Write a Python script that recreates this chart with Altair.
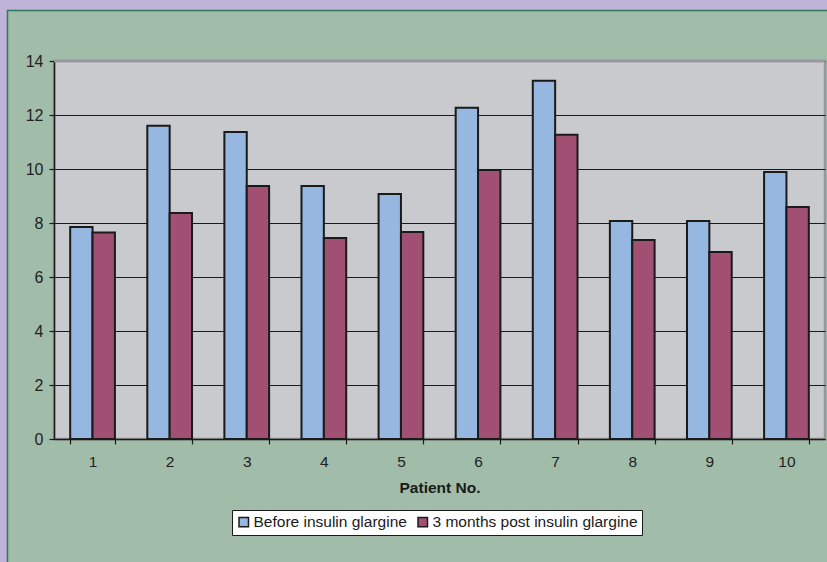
import altair as alt
import pandas as pd

patients = [str(i) for i in range(1, 11)]
before = [7.85, 11.6, 11.37, 9.37, 9.07, 12.27, 13.27, 8.07, 8.07, 9.89]
after = [7.65, 8.37, 9.37, 7.44, 7.67, 9.96, 11.27, 7.37, 6.93, 8.59]
series = ["Before insulin glargine", "3 months post insulin glargine"]
colors = ["#95b7e0", "#a15074"]

rows = []
for p, b, a in zip(patients, before, after):
    rows.append({"patient": p, "series": series[0], "value": b})
    rows.append({"patient": p, "series": series[1], "value": a})
df = pd.DataFrame(rows)

FONT = "Liberation Sans"
W, H = 771, 378

one = pd.DataFrame({"a": [0]})

bars = alt.Chart(df).mark_bar(stroke="#1a1a1a", strokeWidth=2).encode(
    x=alt.X("patient:N", sort=patients, title="Patient No.",
            scale=alt.Scale(paddingInner=0.42, paddingOuter=0.21),
            axis=alt.Axis(tickBand="extent", labelAngle=0, tickSize=5,
                          labelPadding=10, titlePadding=11, grid=False,
                          labelFontSize=15.5, titleFontSize=15.5)),
    xOffset=alt.XOffset("series:N", sort=series,
                        scale=alt.Scale(paddingInner=0, paddingOuter=0)),
    y=alt.Y("value:Q", title=None,
            scale=alt.Scale(domain=[0, 14], nice=False),
            axis=alt.Axis(values=[0, 2, 4, 6, 8, 10, 12, 14], tickSize=5,
                          labelPadding=6, grid=True, gridColor="#1a1a1a",
                          gridWidth=1, labelFontSize=16)),
    color=alt.Color("series:N", sort=series,
                    scale=alt.Scale(domain=series, range=colors),
                    legend=alt.Legend(title=None, orient="none", direction="horizontal",
                                      legendX=178, legendY=449,
                                      fillColor="white", strokeColor="#1a1a1a",
                                      padding=4, symbolType="square", symbolSize=90,
                                      symbolStrokeColor="#1a1a1a", symbolStrokeWidth=1.5,
                                      labelFontSize=15.5, labelFont=FONT, labelColor="#1a1a1a",
                                      labelLimit=400, labelOffset=2, columnPadding=8)),
)

top_strip = alt.Chart(one).mark_rect(fill="#c0b3d8").encode(
    x=alt.value(-54), x2=alt.value(W + 2), y=alt.value(-61), y2=alt.value(-51))
left_strip = alt.Chart(one).mark_rect(fill="#c0b3d8").encode(
    x=alt.value(-54), x2=alt.value(-47), y=alt.value(-61), y2=alt.value(H + 123))
top_line = alt.Chart(one).mark_rule(stroke="#2b7a5b", strokeWidth=1.5).encode(
    x=alt.value(-47), x2=alt.value(W + 2), y=alt.value(-50.5))
left_line = alt.Chart(one).mark_rule(stroke="#2b7a5b", strokeWidth=1.5).encode(
    x=alt.value(-46.5), y=alt.value(-51), y2=alt.value(H + 123))
top_border = alt.Chart(one).mark_rule(stroke="#98989c", strokeWidth=2.5).encode(
    x=alt.value(0), x2=alt.value(W), y=alt.value(0))

chart = alt.layer(top_strip, left_strip, top_line, left_line, bars, top_border).properties(
    width=W, height=H,
    autosize=alt.AutoSizeParams(type="none"),
    padding={"left": 54, "top": 61, "right": 2, "bottom": 123},
    background="#a1bda9",
).configure_view(
    fill="#c9cacd", stroke="#98989c", strokeWidth=2.5
).configure_axis(
    domainColor="#1a1a1a", domainWidth=1.5, tickColor="#1a1a1a", tickWidth=1.2,
    labelFont=FONT, labelColor="#222222",
    titleFont=FONT, titleColor="#1a1a1a", titleFontWeight="bold",
)

chart.save("out.html", embed_options={"renderer": "svg", "actions": False})
